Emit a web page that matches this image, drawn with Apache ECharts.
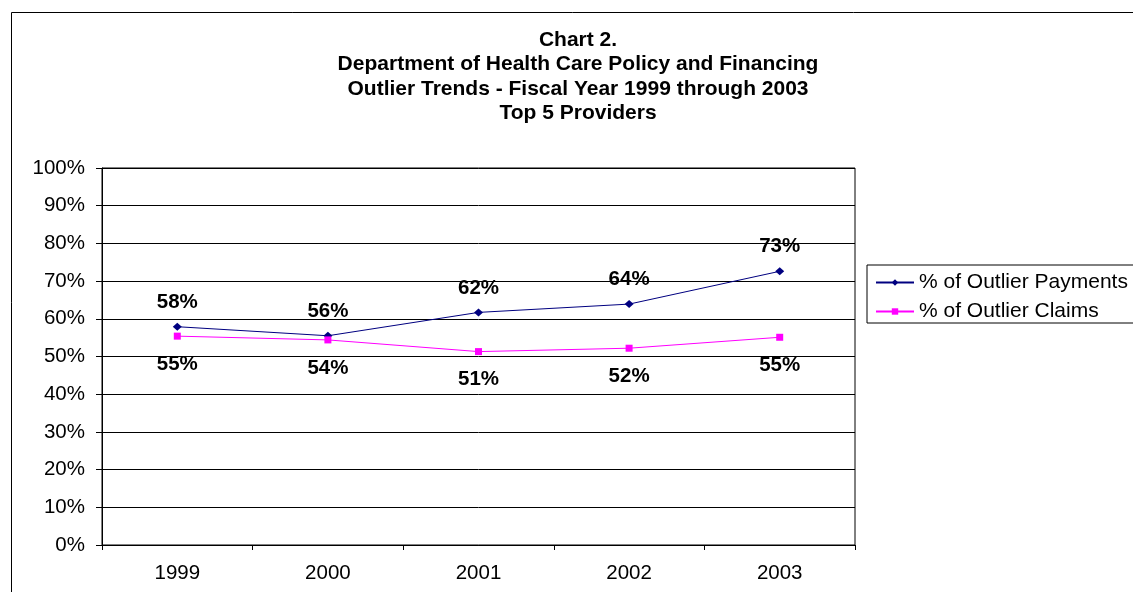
<!DOCTYPE html>
<html>
<head>
<meta charset="utf-8">
<script src="https://cdn.jsdelivr.net/npm/echarts@6/dist/echarts.min.js"></script>
<style>html,body{margin:0;padding:0;background:#fff;}#c{width:1133px;height:592px;}</style>
</head>
<body>
<div id="c"></div>
<script>
const years = ['1999', '2000', '2001', '2002', '2003'];
const paymentsPct = [57.9, 55.5, 61.7, 63.9, 72.6];
const claimsPct = [55.4, 54.4, 51.3, 52.2, 55.1];
const seriesNames = ['% of Outlier Payments', '% of Outlier Claims'];
const titleLines = ['Chart 2.', 'Department of Health Care Policy and Financing', 'Outlier Trends - Fiscal Year 1999 through 2003', 'Top 5 Providers'];

const FONT = '"Liberation Sans", Arial, sans-serif';
const chart = echarts.init(document.getElementById('c'));
chart.setOption({
  animation: false,
  backgroundColor: '#fff',
  graphic: [{
    type: 'rect', left: 9, top: 10, shape: {width: 1140, height: 600},
    style: {fill: 'none', stroke: '#000', lineWidth: 1}, silent: true, z: -1
  }],
  title: {
    text: titleLines.join('\n'),
    left: 578, textAlign: 'center', top: 28, padding: 0,
    textStyle: {fontFamily: FONT, fontSize: 21, fontWeight: 'bold', color: '#000', lineHeight: 24.3}
  },
  legend: {
    orient: 'vertical', left: 867, top: 265,
    itemWidth: 38, itemHeight: 8, itemGap: 8,
    padding: [7, 8, 1, 8],
    borderColor: '#000', borderWidth: 1,
    textStyle: {fontFamily: FONT, fontSize: 21, color: '#000'},
    data: seriesNames
  },
  grid: {left: 102, top: 168, right: 278, bottom: 47, show: true, borderColor: '#000', borderWidth: 1},
  xAxis: {
    type: 'category', data: years, boundaryGap: true,
    axisLine: {lineStyle: {color: '#000', width: 1}},
    axisTick: {show: true, length: 5, lineStyle: {color: '#000'}},
    axisLabel: {fontFamily: FONT, fontSize: 20.5, color: '#000', margin: 18}
  },
  yAxis: {
    type: 'value', min: 0, max: 100, interval: 10,
    axisLine: {show: true, lineStyle: {color: '#000', width: 1}},
    axisTick: {show: true, length: 6, lineStyle: {color: '#000'}},
    splitLine: {lineStyle: {color: '#000', width: 1}},
    axisLabel: {fontFamily: FONT, fontSize: 20.5, color: '#000', margin: 17, formatter: '{value}%'}
  },
  series: [{
    name: seriesNames[0], type: 'line', data: paymentsPct,
    symbol: 'diamond', symbolSize: [9, 8],
    lineStyle: {color: '#000080', width: 1},
    itemStyle: {color: '#000080'},
    label: {show: true, position: 'top', distance: 10, fontFamily: FONT, fontSize: 20.5, fontWeight: 'bold', color: '#000',
      formatter: p => Math.round(p.value) + '%'}
  }, {
    name: seriesNames[1], type: 'line', data: claimsPct,
    symbol: 'rect', symbolSize: 7,
    lineStyle: {color: '#FF00FF', width: 1},
    itemStyle: {color: '#FF00FF'},
    label: {show: true, position: 'bottom', distance: 14, fontFamily: FONT, fontSize: 20.5, fontWeight: 'bold', color: '#000',
      formatter: p => Math.round(p.value) + '%'}
  }]
});
</script>
</body>
</html>
